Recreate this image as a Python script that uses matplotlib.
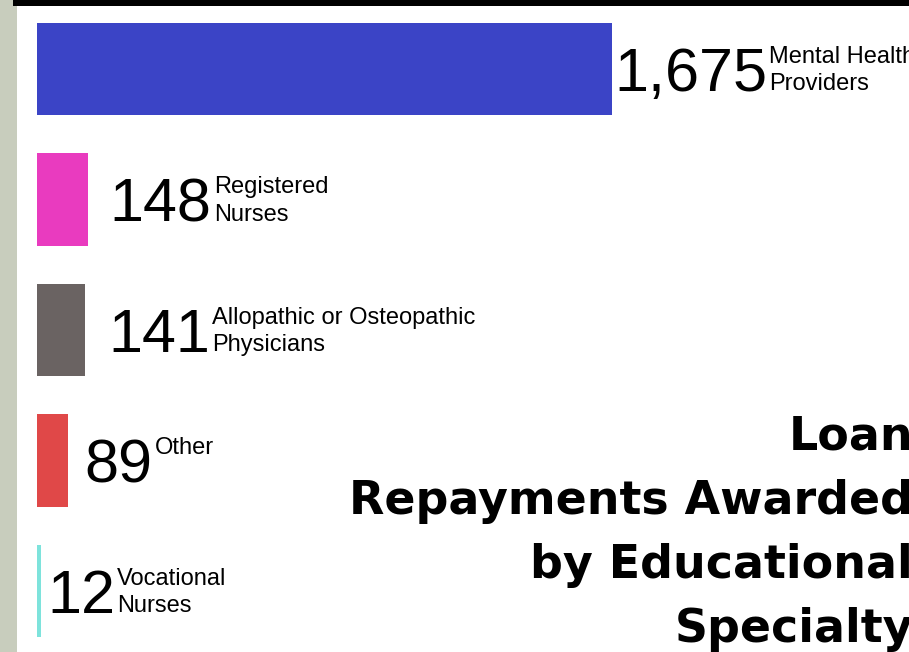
import matplotlib.pyplot as plt
from matplotlib.patches import Rectangle

# data
categories = ["Mental Health\nProviders", "Registered\nNurses",
              "Allopathic or Osteopathic\nPhysicians", "Other", "Vocational\nNurses"]
awards = [1675, 148, 141, 89, 12]
bar_colors = ["#3b44c6", "#e93bbf", "#6a6362", "#e04848", "#7ee3dc"]
title = "Loan\nRepayments Awarded\nby Educational\nSpecialty"

gaps_px = [2, 22, 23, 17, 6]   # space between bar end and the big number

W, H = 909, 652
fig = plt.figure(figsize=(W / 100, H / 100), dpi=100)
fig.patch.set_facecolor("white")

# slide decorations: grey strip on the left and black band on top
fig.patches.append(Rectangle((0, 0), 17 / W, 1, transform=fig.transFigure,
                             facecolor="#c8cdbd", edgecolor="none", zorder=0))
fig.patches.append(Rectangle((13 / W, 1 - 6 / H), 1, 6 / H, transform=fig.transFigure,
                             facecolor="black", edgecolor="none", zorder=1))

ax = fig.add_axes([37 / W, 0, 1 - 37 / W, 1])
ax.axis("off")
rows = list(range(len(awards)))
ax.barh(rows, awards, height=0.71, color=bar_colors, left=0)
ax.set_xlim(0, (W - 37) / 0.3433)
pitch = 130.5
ax.set_ylim((H - 69) / pitch, -69 / pitch)

px2pt = 72 / 100
fig.canvas.draw()
r = fig.canvas.get_renderer()
for i, (val, lab) in enumerate(zip(awards, categories)):
    base = -22 * px2pt
    t = ax.annotate(f"{val:,}", xy=(val, i), xytext=(gaps_px[i] * px2pt, base),
                    textcoords="offset points", fontsize=44, family="Liberation Sans",
                    ha="left", va="baseline", color="black")
    bb = t.get_window_extent(r)
    # label block: top aligned with the top of the digits
    ax.annotate(lab, xy=(val, i),
                xytext=((gaps_px[i] + bb.width + 2) * px2pt, base + 45 * px2pt),
                textcoords="offset points", fontsize=17, family="Liberation Sans",
                ha="left", va="top", linespacing=1.3, color="black")

fig.text(913 / W, 1 - 642 / H, title, ha="right", va="baseline", multialignment="right",
         fontsize=33, fontweight="bold", family="DejaVu Sans", linespacing=1.55)

fig.savefig("out.png", dpi=100)
